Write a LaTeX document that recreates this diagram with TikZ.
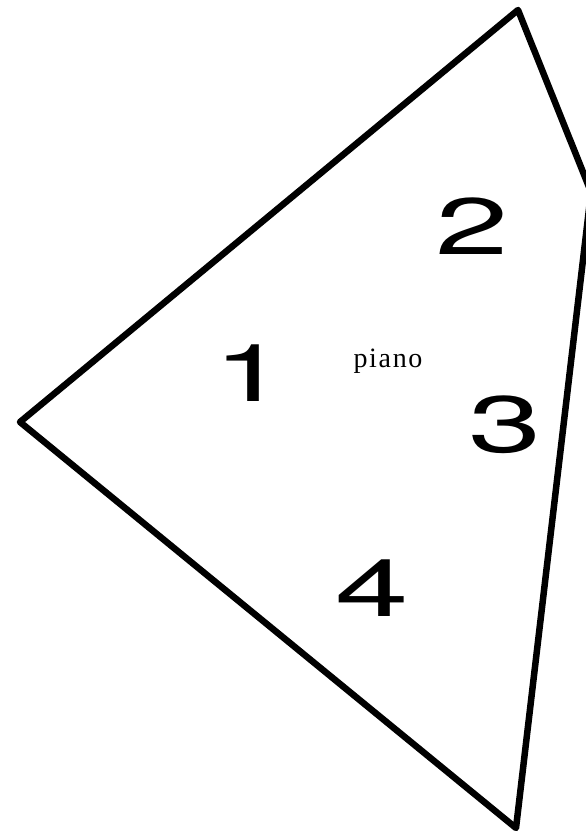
\documentclass[tikz,border=0pt]{standalone}
\usepackage{fontspec}
\newfontfamily\regionfont[FakeStretch=1.65]{TeX Gyre Heros}
\newfontfamily\labelfont[LetterSpace=6]{Liberation Serif}
\tikzset{
  room edge/.style={line width=6.5pt,line join=round,line cap=round},
  region label/.style={inner sep=0pt,font=\regionfont\fontsize{80}{80}\selectfont},
  item label/.style={inner sep=0pt,font=\labelfont\fontsize{28}{28}\selectfont},
}
\begin{document}
\begin{tikzpicture}[x=1pt,y=-1pt]
  \useasboundingbox (0,0) rectangle (586,835);
  \begin{scope}
    \clip (0,0) rectangle (586,835);
    \coordinate (top) at (518,10);
    \coordinate (right) at (591,192);
    \coordinate (bottom) at (516,828);
    \coordinate (left) at (20,422);
    \draw[room edge] (top) -- (right) -- (bottom) -- (left) -- cycle;
  \end{scope}
  \node[region label] (r1) at (250,373) {1};
  \node[region label] (r2) at (472,226) {2};
  \node[region label] (r3) at (505,425) {3};
  \node[region label] (r4) at (372,588) {4};
  \node[item label] (piano) at (388,361) {piano};
\end{tikzpicture}
\end{document}
